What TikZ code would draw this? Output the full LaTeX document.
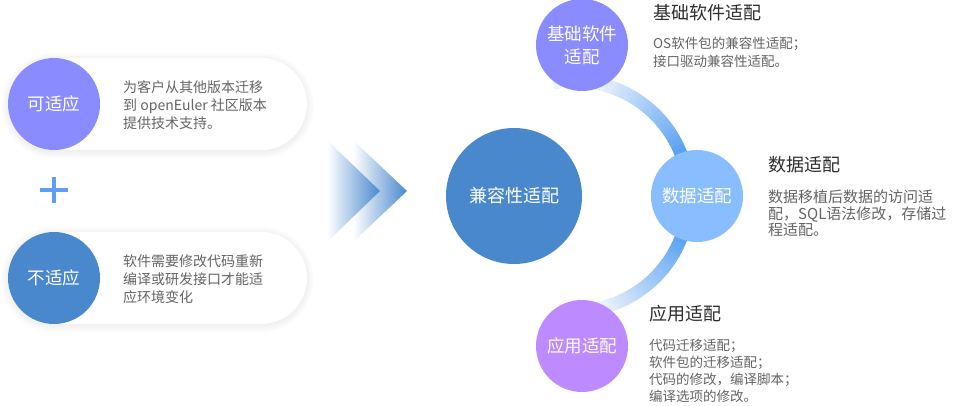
\documentclass[tikz,border=0pt]{standalone}
\usepackage{fontspec}
\setmainfont{Noto Sans CJK SC}
\definecolor{cpurple}{RGB}{138,139,255}
\definecolor{cblue}{RGB}{73,136,205}
\definecolor{clight}{RGB}{136,190,255}
\definecolor{cviolet}{RGB}{190,138,255}
\definecolor{cplus}{RGB}{92,159,245}
\definecolor{arcblue}{RGB}{90,161,242}
\definecolor{arclight}{RGB}{238,244,251}
\definecolor{bodygray}{RGB}{100,100,100}
\definecolor{headgray}{RGB}{45,45,45}
\tikzset{
  circ/.style={circle, minimum size=92pt, inner sep=0pt, text=white, align=center,
    font=\fontsize{17.5}{23}\selectfont},
  bodyl/.style={anchor=base west, inner sep=0pt, text=bodygray, font=\fontsize{14}{18}\selectfont},
  bodys/.style={anchor=base west, inner sep=0pt, text=bodygray, font=\fontsize{13.5}{17}\selectfont},
  bodym/.style={anchor=base west, inner sep=0pt, text=bodygray, font=\fontsize{15}{17}\selectfont},
  headt/.style={anchor=base west, inner sep=0pt, text=headgray, font=\fontsize{18}{22}\selectfont},
  pillbox/.style={fill=white, rounded corners=46pt}
}
\begin{document}
\begin{tikzpicture}[x=1pt,y=-1pt]
\useasboundingbox (0,0) rectangle (961,406);
\fill[white] (0,0) rectangle (961,406);
% pill shadows
\foreach \yy in {58,232}{
  \foreach \i in {1,...,7}{
    \pgfmathsetmacro\rr{46+\i}
    \fill[black, opacity=0.009, rounded corners=\rr pt] (8-\i,\yy-\i+1.5) rectangle (307+\i,\yy+92+\i+1.5);
  }
  \fill[pillbox] (8,\yy) rectangle (307,\yy+92);
}
% left circles
\node[circ, fill=cpurple] (ke) at (54,104) {可适应};
\node[circ, fill=cblue] (bu) at (54,278) {不适应};
% plus
\fill[cplus] (40,188.3) rectangle (68,191.7);
\fill[cplus] (52.3,177) rectangle (55.7,203);
% left texts
\node[bodyl] (k1) at (123,92.3) {为客户从其他版本迁移};
\node[bodyl] (k2) at (123,110.3) {到 openEuler 社区版本};
\node[bodyl] (k3) at (123,128.3) {提供技术支持。};
\node[bodyl] (b1) at (123,266.3) {软件需要修改代码重新};
\node[bodyl] (b2) at (123,284.3) {编译或研发接口才能适};
\node[bodyl] (b3) at (123,302.3) {应环境变化};
% chevrons
\shade[left color=white, right color=cblue] (353,140) -- (407,191) -- (353,242) -- cycle;
\shade[left color=white, right color=cblue] (327,140) -- (380,191) -- (327,242) -- cycle;
% central circle
\node[circle, minimum size=136pt, inner sep=0pt, fill=cblue, text=white,
  font=\fontsize{18}{22}\selectfont] (jr) at (514,196) {兼容性适配};
% arc band
\foreach \a in {-98,-96,...,98}{
  \pgfmathtruncatemacro\p{max(0,min(100,100-(abs(\a)-22)*100/55))}
  \pgfmathsetmacro\b{\a+2.4}
  \draw[line width=13pt, color=arcblue!\p!arclight]
    ({574+115*cos(\a)},{196-115*sin(\a)}) -- ({574+115*cos(\b)},{196-115*sin(\b)});
}
% right circles
\node[circ, fill=cpurple] (jc) at (582,45) {基础软件\\适配};
\node[circ, fill=clight] (sj) at (697,196) {数据适配};
\node[circ, fill=cviolet] (yy) at (582,346) {应用适配};
% right texts
\node[headt] (h1) at (653,19.8) {基础软件适配};
\node[bodys] (j1) at (653,48.2) {OS软件包的兼容性适配；};
\node[bodys] (j2) at (653,66.6) {接口驱动兼容性适配。};
\node[headt] (h2) at (768,171.8) {数据适配};
\node[bodym] (s1) at (768,202.4) {数据移植后数据的访问适};
\node[bodym] (s2) at (768,219) {配，SQL语法修改，存储过};
\node[bodym] (s3) at (768,235.7) {程适配。};
\node[headt] (h3) at (649,320.8) {应用适配};
\node[bodys] (y1) at (649,350) {代码迁移适配；};
\node[bodys] (y2) at (649,367) {软件包的迁移适配；};
\node[bodys] (y3) at (649,384) {代码的修改，编译脚本；};
\node[bodys] (y4) at (649,401) {编译选项的修改。};
\end{tikzpicture}
\end{document}
